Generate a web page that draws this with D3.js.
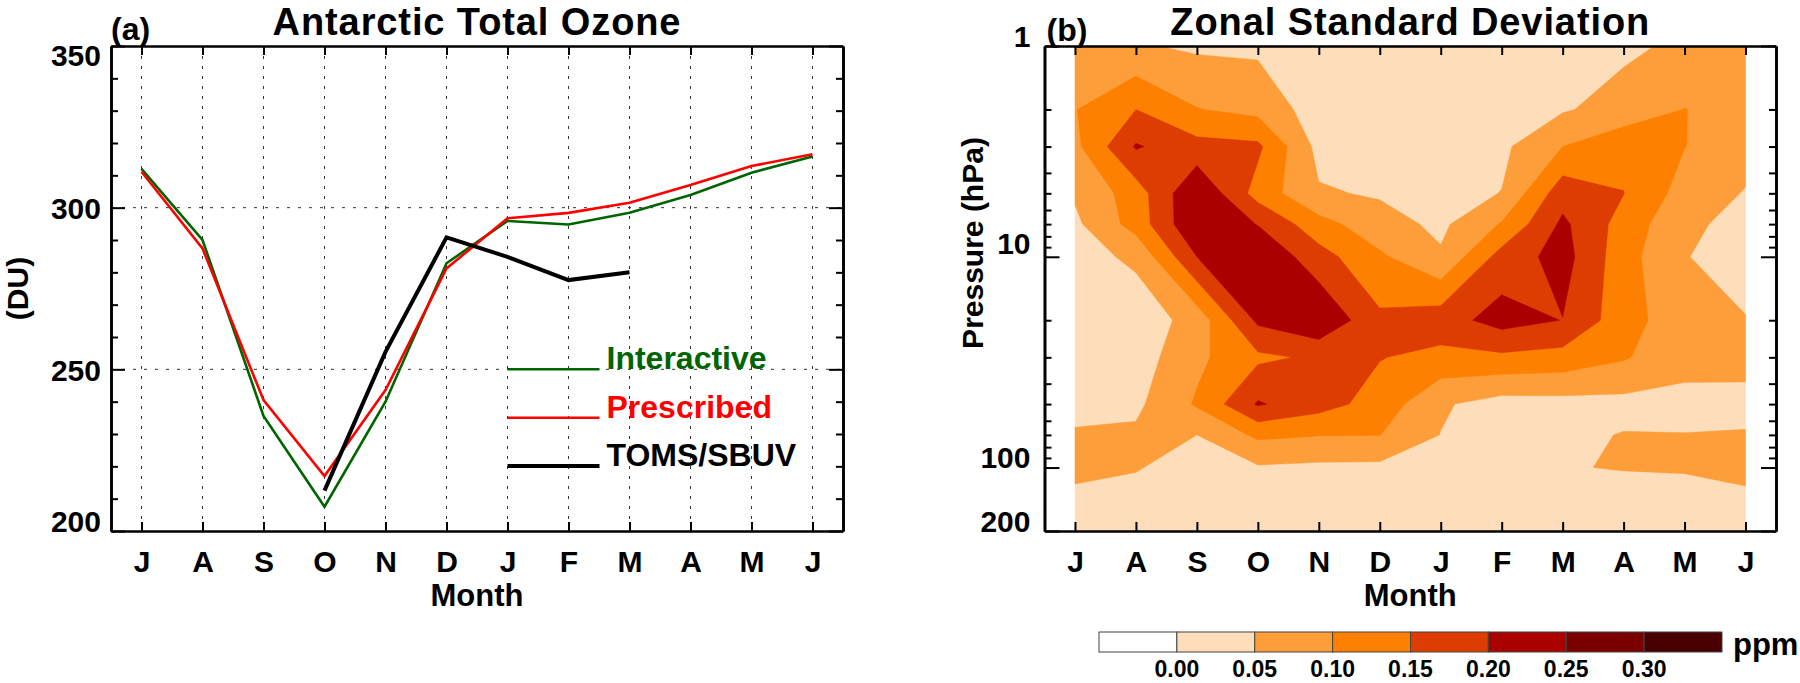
<!DOCTYPE html>
<html><head><meta charset="utf-8">
<script src="https://cdn.jsdelivr.net/npm/d3@7"></script>
<style>
body{margin:0;background:#fff;}
svg text{font-family:"Liberation Sans",Arial,Helvetica,sans-serif;font-weight:bold;}
</style></head><body>
<svg id="chart" width="1800" height="683"></svg>
<script>
// ---------- data ----------
const months = ["J","A","S","O","N","D","J","F","M","A","M","J"];
const interactive = [312, 290, 235.6, 207.5, 240, 282.8, 295.9, 294.8, 298.4, 303.9, 310.8, 315.8];
const prescribed  = [311.1, 287.4, 240.5, 217, 243.6, 281.2, 296.7, 298.4, 301.5, 307, 312.9, 316.5];
const tomsSbuv    = [null, null, null, 212.5, 255.4, 290.8, 284.8, 277.6, 280, null, null, null];
const duMajorTicks = [200, 250, 300, 350];
const duGrid = [250, 300];
const seriesNames = ["Interactive", "Prescribed", "TOMS/SBUV"];

const pressureLevels = [1, 2, 3, 5, 7, 10, 20, 30, 50, 70, 100, 150, 200];
const pressureMajor = [1, 10, 100, 200];
const pressureMinor = [2,3,4,5,6,7,8,9,20,30,40,50,60,70,80,90];
// zonal standard deviation (ppm), one list per month, at pressureLevels
const sdJul = [0.075, 0.098, 0.088, 0.056, 0.04, 0.03, 0.02, 0.02, 0.035, 0.055, 0.058, 0.04, 0.03];
const sdAug = [0.055, 0.15, 0.205, 0.125, 0.12, 0.06, 0.02, 0.025, 0.04, 0.058, 0.053, 0.03, 0.025];
const sdSep = [0.042, 0.102, 0.167, 0.248, 0.248, 0.20, 0.07, 0.089, 0.106, 0.05, 0.03, 0.02, 0.02];
const sdOct = [0.04, 0.085, 0.16, 0.13, 0.198, 0.245, 0.21, 0.14, 0.205, 0.11, 0.045, 0.03, 0.025];
const sdNov = [0.02, 0.025, 0.035, 0.055, 0.119, 0.17, 0.245, 0.158, 0.17, 0.102, 0.04, 0.03, 0.025];
const sdDec = [0.02, 0.025, 0.03, 0.045, 0.069, 0.108, 0.16, 0.152, 0.13, 0.101, 0.039, 0.03, 0.025];
const sdJan = [0.02, 0.025, 0.03, 0.035, 0.04, 0.056, 0.178, 0.136, 0.056, 0.049, 0.035, 0.03, 0.025];
const sdFeb = [0.02, 0.025, 0.04, 0.051, 0.104, 0.17, 0.22, 0.14, 0.03, 0.03, 0.035, 0.03, 0.025];
const sdMar = [0.03, 0.045, 0.10, 0.18, 0.21, 0.22, 0.199, 0.132, 0.032, 0.04, 0.049, 0.035, 0.025];
const sdApr = [0.04, 0.07, 0.134, 0.151, 0.13, 0.12, 0.12, 0.105, 0.035, 0.052, 0.051, 0.04, 0.03];
const sdMay = [0.06, 0.101, 0.101, 0.08, 0.06, 0.051, 0.07, 0.065, 0.037, 0.051, 0.054, 0.03, 0.025];
const sdJun = [0.08, 0.08, 0.07, 0.047, 0.035, 0.04, 0.051, 0.06, 0.041, 0.052, 0.06, 0.04, 0.03];

const colorBreaks = [0.00, 0.05, 0.10, 0.15, 0.20, 0.25, 0.30];
const colorLabels = ["0.00", "0.05", "0.10", "0.15", "0.20", "0.25", "0.30"];
const bandColors = ["#ffffff", "#fedeba", "#fd9e3a", "#fe8000", "#dd3d00", "#aa0000", "#7a0000", "#480000"];

// ---------- setup ----------
const svg = d3.select("#chart");
const FONT = '"Liberation Sans", Arial, Helvetica, sans-serif';

const xA = d3.scaleLinear().domain([-0.5, 11.5]).range([111, 843]);
const yA = d3.scaleLinear().domain([200, 350]).range([531, 46]);
const xB = d3.scaleLinear().domain([-0.5, 11.5]).range([1044.5, 1776]);
const yB = d3.scaleLog().domain([1, 200]).range([46, 531]);

function styleAxis(g, fs) {
  g.attr("font-family", FONT).attr("font-size", fs).attr("font-weight", "bold");
  g.select(".domain").attr("stroke", "#000").attr("stroke-width", 2.6);
  g.selectAll(".tick line").attr("stroke", "#000").attr("stroke-width", 2);
  g.selectAll(".tick text").attr("fill", "#000");
}

// ================= Panel (a) =================
const gA = svg.append("g");
const [aTop, aBot] = [yA.range()[1], yA.range()[0]];
const [aLeft, aRight] = xA.range();

// grid
gA.selectAll("line.vg").data(d3.range(months.length)).join("line")
  .attr("x1", d => xA(d)).attr("x2", d => xA(d)).attr("y1", aTop).attr("y2", aBot)
  .attr("stroke", "#333").attr("stroke-width", 1).attr("stroke-dasharray", "3,7");
gA.selectAll("line.hg").data(duGrid).join("line")
  .attr("x1", aLeft).attr("x2", aRight).attr("y1", d => yA(d)).attr("y2", d => yA(d))
  .attr("stroke", "#333").attr("stroke-width", 1).attr("stroke-dasharray", "3,8");

// lines
const lineGen = d3.line().defined(d => d != null).x((d, i) => xA(i)).y(d => yA(d));
gA.append("path").attr("d", lineGen(interactive)).attr("fill", "none").attr("stroke", "#006400").attr("stroke-width", 2.6);
gA.append("path").attr("d", lineGen(prescribed)).attr("fill", "none").attr("stroke", "#ff0000").attr("stroke-width", 2.6);
gA.append("path").attr("d", lineGen(tomsSbuv)).attr("fill", "none").attr("stroke", "#000").attr("stroke-width", 4);

// legend
const legY = [369.3, 417.7, 466];
const legCol = ["#006400", "#ff0000", "#000"];
const legW = [2.6, 2.6, 4];
seriesNames.forEach((n, i) => {
  gA.append("line").attr("x1", xA(6)).attr("x2", xA(6) + 92).attr("y1", legY[i]).attr("y2", legY[i])
    .attr("stroke", legCol[i]).attr("stroke-width", legW[i]);
  gA.append("text").attr("x", xA(6) + 99).attr("y", legY[i]).attr("font-size", 32)
    .attr("fill", legCol[i]).text(n);
});

// axes
const monthVals = d3.range(months.length);
const axBA = gA.append("g").attr("transform", `translate(0,${aBot})`)
  .call(d3.axisBottom(xA).tickValues(monthVals).tickFormat(i => months[i]).tickSize(-9).tickSizeOuter(0).tickPadding(20));
styleAxis(axBA, 30);
const axTA = gA.append("g").attr("transform", `translate(0,${aTop})`)
  .call(d3.axisTop(xA).tickValues(monthVals).tickFormat("").tickSize(-9).tickSizeOuter(0));
styleAxis(axTA, 30);
const duMinor = d3.range(210, 350, 10).filter(v => v % 50 !== 0);
const axLA = gA.append("g").attr("transform", `translate(${aLeft},0)`)
  .call(d3.axisLeft(yA).tickValues(duMajorTicks).tickSize(-14).tickSizeOuter(0).tickPadding(10));
styleAxis(axLA, 30);
axLA.selectAll(".tick text").attr("dy", d => d === 350 ? "0.64em" : d === 200 ? "0.02em" : "0.36em");
const axLAm = gA.append("g").attr("transform", `translate(${aLeft},0)`)
  .call(d3.axisLeft(yA).tickValues(duMinor).tickFormat("").tickSize(-7).tickSizeOuter(0));
styleAxis(axLAm, 30);
const axRA = gA.append("g").attr("transform", `translate(${aRight},0)`)
  .call(d3.axisRight(yA).tickValues(duMajorTicks).tickFormat("").tickSize(-14).tickSizeOuter(0));
styleAxis(axRA, 30);
const axRAm = gA.append("g").attr("transform", `translate(${aRight},0)`)
  .call(d3.axisRight(yA).tickValues(duMinor).tickFormat("").tickSize(-7).tickSizeOuter(0));
styleAxis(axRAm, 30);

// texts
gA.append("text").attr("x", (aLeft + aRight) / 2).attr("y", 35).attr("text-anchor", "middle")
  .attr("font-size", 38).attr("letter-spacing", "0.9px").text("Antarctic Total Ozone");
gA.append("text").attr("x", aLeft).attr("y", 40).attr("font-size", 32).text("(a)");
gA.append("text").attr("x", (aLeft + aRight) / 2).attr("y", 606).attr("text-anchor", "middle")
  .attr("font-size", 31).text("Month");
gA.append("text").attr("transform", `translate(28,${(aTop + aBot) / 2}) rotate(-90)`)
  .attr("text-anchor", "middle").attr("font-size", 30).text("(DU)");

// ================= Panel (b) =================
const gB = svg.append("g");
const [bTop, bBot] = yB.range();
const [bLeft, bRight] = xB.range();

const sdByMonth = [sdJul, sdAug, sdSep, sdOct, sdNov, sdDec, sdJan, sdFeb, sdMar, sdApr, sdMay, sdJun];
const nx = sdByMonth.length, ny = pressureLevels.length;
const values = new Array(nx * ny);
for (let j = 0; j < ny; j++) for (let i = 0; i < nx; i++) values[j * nx + i] = sdByMonth[i][j];
const bands = d3.contours().size([nx, ny]).thresholds(colorBreaks)(values);

const lgLev = pressureLevels.map(Math.log10);
function gx(c) { const t = Math.max(0, Math.min(nx - 1, c - 0.5)); return xB(t); }
function gy(r) {
  const t = Math.max(0, Math.min(ny - 1, r - 0.5));
  const k = Math.min(ny - 2, Math.floor(t)); const f = t - k;
  return yB(Math.pow(10, lgLev[k] + f * (lgLev[k + 1] - lgLev[k])));
}
const pathStr = mp => mp.coordinates.map(poly => poly.map(ring =>
  "M" + ring.map(p => gx(p[0]).toFixed(2) + "," + gy(p[1]).toFixed(2)).join("L") + "Z").join("")).join("");
gB.selectAll("path.band").data(bands).join("path").attr("class", "band")
  .attr("d", pathStr).attr("fill", (d, i) => bandColors[i + 1]).attr("fill-rule", "evenodd")
  .attr("stroke", (d, i) => bandColors[i + 1]).attr("stroke-width", 0.4);

const axBB = gB.append("g").attr("transform", `translate(0,${bBot})`)
  .call(d3.axisBottom(xB).tickValues(monthVals).tickFormat(i => months[i]).tickSize(-9).tickSizeOuter(0).tickPadding(20));
styleAxis(axBB, 30);
const axTB = gB.append("g").attr("transform", `translate(0,${bTop})`)
  .call(d3.axisTop(xB).tickValues(monthVals).tickFormat("").tickSize(-9).tickSizeOuter(0));
styleAxis(axTB, 30);
const axLB = gB.append("g").attr("transform", `translate(${bLeft},0)`)
  .call(d3.axisLeft(yB).tickValues(pressureMajor).tickFormat(d3.format("d")).tickSize(-15).tickSizeOuter(0).tickPadding(14));
styleAxis(axLB, 30);
axLB.selectAll(".tick text").attr("dy", d => d === 10 ? "-0.1em" : "0em");
const axLBm = gB.append("g").attr("transform", `translate(${bLeft},0)`)
  .call(d3.axisLeft(yB).tickValues(pressureMinor).tickFormat("").tickSize(-7).tickSizeOuter(0));
styleAxis(axLBm, 30);
const axRB = gB.append("g").attr("transform", `translate(${bRight},0)`)
  .call(d3.axisRight(yB).tickValues(pressureMajor).tickFormat("").tickSize(-15).tickSizeOuter(0));
styleAxis(axRB, 30);
const axRBm = gB.append("g").attr("transform", `translate(${bRight},0)`)
  .call(d3.axisRight(yB).tickValues(pressureMinor).tickFormat("").tickSize(-7).tickSizeOuter(0));
styleAxis(axRBm, 30);

gB.append("text").attr("x", (bLeft + bRight) / 2).attr("y", 35).attr("text-anchor", "middle")
  .attr("font-size", 38).attr("letter-spacing", "0.9px").text("Zonal Standard Deviation");
gB.append("text").attr("x", bLeft + 2).attr("y", 41).attr("font-size", 32).text("(b)");
gB.append("text").attr("x", (bLeft + bRight) / 2).attr("y", 606).attr("text-anchor", "middle")
  .attr("font-size", 31).text("Month");
gB.append("text").attr("transform", `translate(983,243) rotate(-90)`)
  .attr("text-anchor", "middle").attr("font-size", 30).text("Pressure (hPa)");

// colorbar
const xC = d3.scaleLinear().domain([-0.05, 0.35]).range([1099, 1722]);
const gC = svg.append("g");
gC.selectAll("rect").data(bandColors).join("rect")
  .attr("x", (d, i) => xC(-0.05 + 0.05 * i)).attr("width", xC(0.05) - xC(0))
  .attr("y", 632).attr("height", 20).attr("fill", d => d)
  .attr("stroke", "#444").attr("stroke-width", 1);
gC.selectAll("text.cl").data(colorBreaks).join("text").attr("class", "cl")
  .attr("x", d => xC(d)).attr("y", 677).attr("text-anchor", "middle").attr("font-size", 23)
  .text((d, i) => colorLabels[i]);
gC.append("text").attr("x", 1733).attr("y", 655).attr("font-size", 31).text("ppm");
</script>
</body></html>
